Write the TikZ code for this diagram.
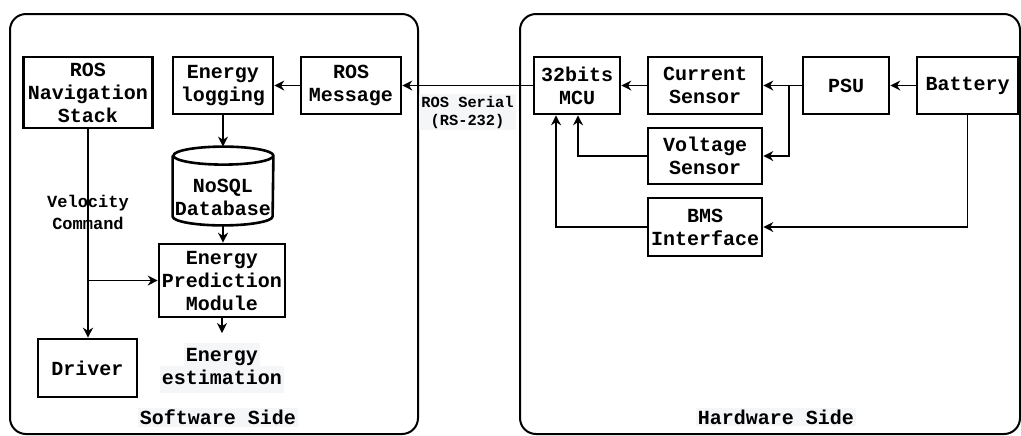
\documentclass[tikz,border=0pt]{standalone}
\usepackage{fontspec}
\setmonofont{Liberation Mono}
\usepackage{tikz}
\usetikzlibrary{arrows.meta,positioning,shapes.geometric}
\definecolor{hlgray}{RGB}{244, 246, 248}
\newcommand{\hlline}[1]{{\setlength{\fboxsep}{1pt}\colorbox{hlgray}{\strut #1}}}
\tikzset{
  boxnode/.style={draw, rectangle, line width=1.3pt, minimum width=50pt, minimum height=28.5pt, align=center, inner sep=1pt},
  dbnode/.style={rectangle, minimum width=50pt, minimum height=28pt, align=center, inner sep=0pt},
  dbline/.style={line width=1.3pt},
  panel/.style={draw, line width=1pt, rounded corners=8pt},
  arrow/.style={-{Stealth[length=5pt, width=5pt, inset=1.6pt]}, line width=0.6pt},
  sidelabel/.style={fill=hlgray, inner sep=1pt},
  smalllabel/.style={font=\ttfamily\bfseries\fontsize{8.5}{11}\selectfont, align=center}
}

\begin{document}
\begin{tikzpicture}[x=0.5pt, y=-0.5pt, font=\ttfamily\bfseries\fontsize{10}{11.5}\selectfont]
  \useasboundingbox (0,0) rectangle (1021,435);
  % the two sides
  \draw [panel] (10,14) rectangle (418,434);
  \draw [panel] (520,14) rectangle (1020,434);

  % software side
  \node [boxnode, minimum width=64.5pt, minimum height=35.5pt] (nav) at (88,92.5) {ROS\\Navigation\\Stack};
  \node [boxnode] (elog) at (223,85.5) {Energy\\logging};
  \node [boxnode] (rosmsg) at (351,85.5) {ROS\\Message};
  \node [dbnode] (nosql) at (223,197) {NoSQL\\Database};
  \node [boxnode, minimum width=63pt, minimum height=36.5pt] (pred) at (222,280.5) {Energy\\Prediction\\Module};
  \node [boxnode, minimum width=49.5pt, minimum height=29pt] (driver) at (87.5,368) {Driver};
  \node [align=center, inner sep=0pt] (estim) at (222,368) {\hlline{Energy}\\[-3pt]\hlline{estimation}};
  \node [smalllabel] (velcmd) at (88,212) {Velocity\\Command};
  \node [sidelabel] (swside) at (218,417) {Software Side};

  % database drum
  \coordinate (dbtop) at ([yshift=11pt]nosql.north);
  \draw [dbline] ([yshift=6.5pt]nosql.north west) -- ([yshift=4.5pt]nosql.south west)
    arc [start angle=180, end angle=360, x radius=25pt, y radius=4.5pt]
    -- ([yshift=6.5pt]nosql.north east)
    arc [start angle=0, end angle=180, x radius=25pt, y radius=4.5pt]
    arc [start angle=180, end angle=360, x radius=25pt, y radius=4.5pt];

  % hardware side
  \node [boxnode, minimum width=43pt] (mcu) at (577,85.5) {32bits\\MCU};
  \node [boxnode, minimum width=57pt] (cur) at (705,85.5) {Current\\Sensor};
  \node [boxnode, minimum width=57pt, minimum height=28pt] (volt) at (705,156) {Voltage\\Sensor};
  \node [boxnode, minimum width=57pt, minimum height=29pt] (bms) at (705,227) {BMS\\Interface};
  \node [boxnode, minimum width=43pt] (psu) at (846,85.5) {PSU};
  \node [boxnode, minimum width=50.5pt] (batt) at (967.5,85.5) {Battery};
  \node [sidelabel] (hwside) at (776,417) {Hardware Side};

  \coordinate (vbranch) at (nav.south |- pred.west);
  \coordinate (predout) at (222,333);
  \coordinate (psujoin) at (789,85.5);

  \draw [arrow] (rosmsg) -- (elog);
  \draw [arrow] (elog) -- (dbtop);
  \draw [arrow] (nosql.south) -- (nosql.south |- pred.north);
  \draw [arrow] (nav.south) -- (nav.south |- driver.north);
  \draw [arrow] (vbranch) -- (pred);
  \draw [arrow] (pred) -- (predout);
  \draw [arrow] (mcu) -- node [below=4pt, fill=hlgray, inner sep=1pt, align=center, font=\ttfamily\bfseries\fontsize{7.7}{9}\selectfont] {ROS Serial\\(RS-232)} (rosmsg);
  \draw [arrow] (cur) -- (mcu);
  \draw [arrow] (batt) -- (psu);
  \draw [arrow] (psu) -- (cur);
  \draw [arrow] (psujoin) |- (volt);
  \draw [arrow] (volt) -| ([xshift=0.5pt]mcu.south);
  \draw [arrow] (bms) -| ([xshift=-10.5pt]mcu.south);
  \draw [arrow] (batt) |- (bms);
\end{tikzpicture}
\end{document}
